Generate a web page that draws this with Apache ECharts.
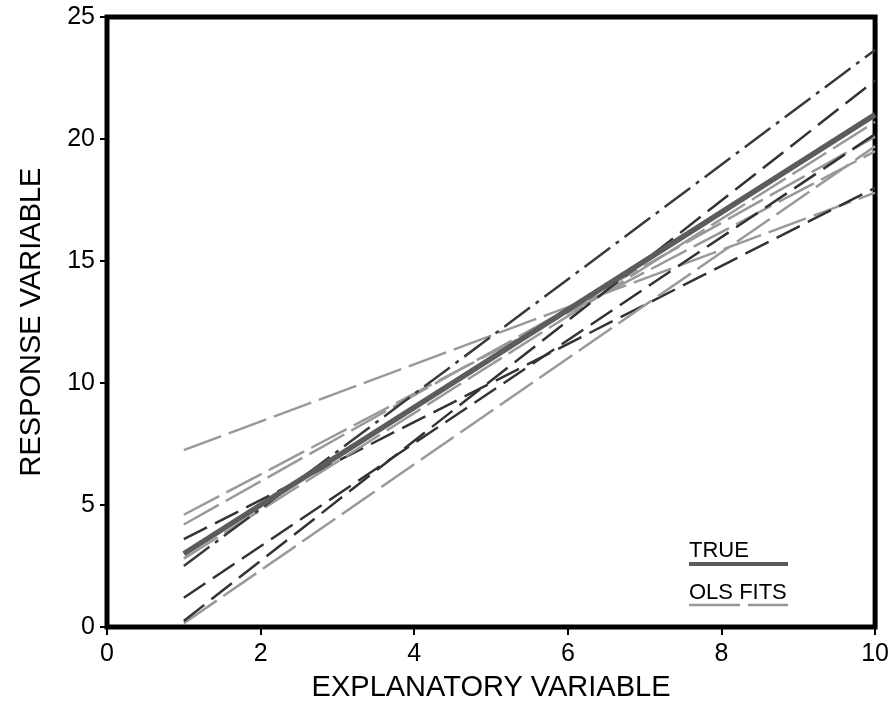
<!DOCTYPE html>
<html>
<head>
<meta charset="UTF-8">
<title>OLS fits</title>
<script src="https://cdn.jsdelivr.net/npm/echarts@6/dist/echarts.min.js"></script>
<style>html,body{margin:0;background:#fff}</style>
</head>
<body>
<div id="main" style="width:892px;height:707px"></div>
<script>
// x range every line is drawn over
var xEnds = [1, 10];
// true line y at x=1 and x=10
var trueEnds = [3, 21];
// OLS fitted lines: y at x=1 and y at x=10
var fitLeft  = [7.25, 4.6, 4.2, 3.6, 2.8, 2.5, 1.2, 0.15, 0.25];
var fitRight = [17.8, 19.5, 20.1, 18.0, 20.7, 23.65, 20.2, 19.7, 22.4];
var fitKind  = ['dot', 'dot', 'dot', 'dash', 'dot', 'dashdot', 'dash', 'dot', 'dash'];
var xTicks = [0, 2, 4, 6, 8, 10];
var yTicks = [0, 5, 10, 15, 20, 25];

var styles = {
    dot:     {color: '#999', width: 2.5, type: [40, 8]},
    dash:    {color: '#333', width: 2.5, type: [26, 9]},
    dashdot: {color: '#3a3a3a', width: 2.5, type: [32, 7, 4, 7]}
};
var trueStyle = {color: '#5c5c5c', width: 5.5, type: 'solid'};

var FONT = 'Liberation Sans';
var series = [];
for (var i = 0; i < fitLeft.length; i++) {
    series.push({
        type: 'line', symbol: 'none', silent: true,
        data: [[xEnds[0], fitLeft[i]], [xEnds[1], fitRight[i]]],
        lineStyle: styles[fitKind[i]]
    });
}
series.push({
    type: 'line', symbol: 'none', silent: true, z: 5,
    data: [[xEnds[0], trueEnds[0]], [xEnds[1], trueEnds[1]]],
    lineStyle: trueStyle
});

var myChart = echarts.init(document.getElementById('main'));
myChart.setOption({
    animation: false,
    backgroundColor: '#fff',
    grid: {
        left: 107, right: 16, top: 17, bottom: 76,
        show: true, borderWidth: 5, borderColor: '#000'
    },
    xAxis: {
        type: 'value',
        min: xTicks[0], max: xTicks[xTicks.length - 1], interval: xTicks[1] - xTicks[0],
        splitLine: {show: false},
        axisLine: {show: false},
        axisTick: {show: true, length: 8, lineStyle: {color: '#000', width: 2}},
        axisLabel: {color: '#000', fontSize: 25, fontFamily: FONT, margin: 15},
        name: 'EXPLANATORY VARIABLE', nameLocation: 'middle', nameGap: 46,
        nameTextStyle: {color: '#000', fontSize: 29, fontFamily: FONT}
    },
    yAxis: {
        type: 'value',
        min: yTicks[0], max: yTicks[yTicks.length - 1], interval: yTicks[1] - yTicks[0],
        splitLine: {show: false},
        axisLine: {show: false},
        axisTick: {show: true, length: 7, lineStyle: {color: '#000', width: 2}},
        axisLabel: {color: '#000', fontSize: 25, fontFamily: FONT, margin: 12},
        name: 'RESPONSE VARIABLE', nameLocation: 'middle', nameGap: 61,
        nameTextStyle: {color: '#000', fontSize: 29, fontFamily: FONT}
    },
    graphic: [
        {type: 'text', left: 689, top: 540,
         style: {text: 'TRUE', fill: '#000', font: '22px "Liberation Sans"'}},
        {type: 'line', shape: {x1: 689, y1: 564, x2: 788, y2: 564},
         style: {stroke: trueStyle.color, lineWidth: 4}},
        {type: 'text', left: 689, top: 582,
         style: {text: 'OLS FITS', fill: '#000', font: '22px "Liberation Sans"'}},
        {type: 'line', shape: {x1: 689, y1: 605, x2: 740, y2: 605},
         style: {stroke: styles.dot.color, lineWidth: 2.5}},
        {type: 'line', shape: {x1: 748, y1: 605, x2: 788, y2: 605},
         style: {stroke: styles.dot.color, lineWidth: 2.5}}
    ],
    series: series
});
</script>
</body>
</html>
